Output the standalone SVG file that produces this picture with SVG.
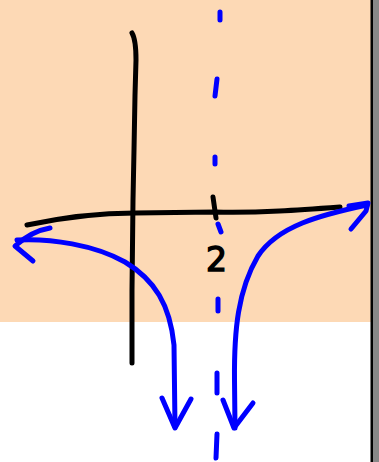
<svg xmlns="http://www.w3.org/2000/svg" width="379" height="462" viewBox="0 0 379 462">
<style>
.ink{fill:none;stroke:#000;stroke-width:5;stroke-linecap:round;stroke-linejoin:round}
.blue{fill:none;stroke:#0000ff;stroke-width:5;stroke-linecap:round;stroke-linejoin:round}
.lbl{font-family:"DejaVu Sans","Liberation Sans",sans-serif;font-size:33px;fill:#000;stroke:#000;stroke-width:1.5}
</style>
<rect x="0" y="0" width="379" height="462" fill="#ffffff"/>
<rect x="0" y="0" width="371" height="322" fill="#fdd9b5"/>
<rect x="370.5" y="0" width="2.5" height="462" fill="#000"/>
<rect x="373" y="0" width="6" height="462" fill="#888"/>
<g id="axes">
<path class="ink" d="M132,33 C135,38 136,45 136,60 L135,95 L134,150 L133,200 L132,290 L132,363"/>
<path class="ink" d="M27,225 C60,218 100,213 135,213 L215,212 C260,213 300,210 340,207"/>
<path class="ink" d="M213,197 L216,218"/>
</g>
<g id="asymptote">
<path class="blue" d="M220,12 L220,20 M217,79 L215,96 M215,157 L215,164 M218,224 L221,232 M218,299 L218,311 M217,373 L217,393 M217,434 L216,458"/>
</g>
<g id="label">
<text class="lbl" x="206" y="271">2</text>
</g>
<g id="curves">
<path class="blue" d="M17,240 C50,238 95,245 125,262 C155,280 170,305 174,345 L175,427"/>
<path class="blue" d="M50,228 C38,230 25,237 15,246 L33,261"/>
<path class="blue" d="M162,398 L175,428 L191,399"/>
<path class="blue" d="M235,428 L234.5,380 C234,330 238,290 258,256 C278,226 320,215 367,205"/>
<path class="blue" d="M349,206 L368,203 L366,211 L351,229"/>
<path class="blue" d="M223,400 L234,428 L253,403"/>
</g>
</svg>
